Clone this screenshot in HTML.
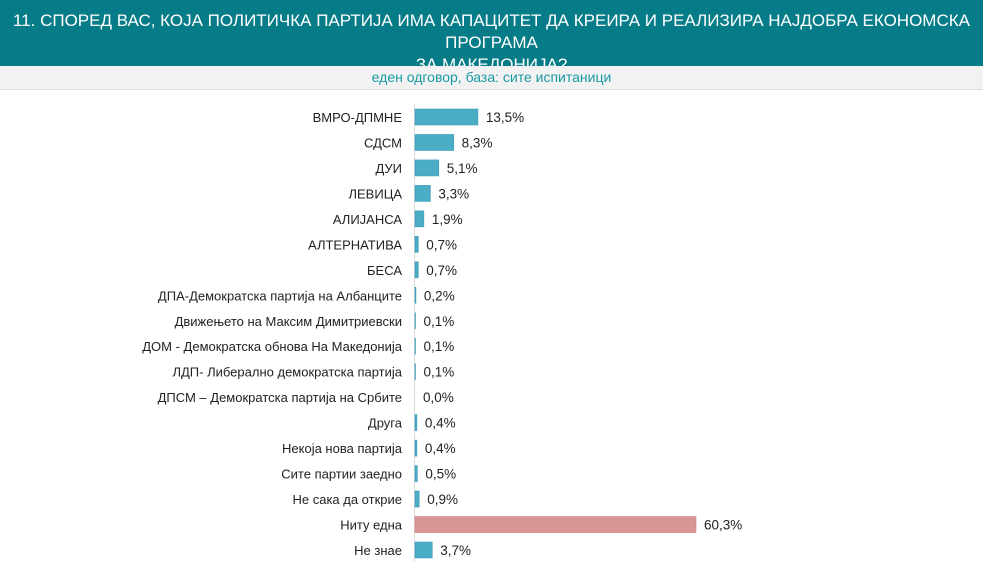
<!DOCTYPE html>
<html><head><meta charset="utf-8"><style>
body{margin:0;width:983px;height:570px;background:#fff;font-family:"Liberation Sans",sans-serif;overflow:hidden;position:relative}
#hdr{position:absolute;left:0;top:0;width:983px;height:66px;background:#067c89;color:#fff;font-size:17px;text-align:center;line-height:22px;padding-top:10px;box-sizing:border-box}
#sub{position:absolute;left:0;top:66px;width:983px;height:23px;background:#f2f2f2;border-bottom:1px solid #ddd;color:#1a9aa3;font-size:14px;text-align:center;line-height:23px}
</style></head><body>
<div id="hdr">11. СПОРЕД ВАС, КОЈА ПОЛИТИЧКА ПАРТИЈА ИМА КАПАЦИТЕТ ДА КРЕИРА И РЕАЛИЗИРА НАЈДОБРА ЕКОНОМСКА ПРОГРАМА<br>ЗА МАКЕДОНИЈА?</div>
<div id="sub">еден одговор, база: сите испитаници</div>
<svg id="chart" width="983" height="570" style="position:absolute;left:0;top:0"></svg>
<script>
const categories=["ВМРО-ДПМНЕ","СДСМ","ДУИ","ЛЕВИЦА","АЛИЈАНСА","АЛТЕРНАТИВА","БЕСА","ДПА-Демократска партија на Албанците","Движењето на Максим Димитриевски","ДОМ - Демократска обнова На Македонија","ЛДП- Либерално демократска партија","ДПСМ – Демократска партија на Србите","Друга","Некоја нова партија","Сите партии заедно","Не сака да открие","Ниту една","Не знае"];
const values=[13.5,8.3,5.1,3.3,1.9,0.7,0.7,0.2,0.1,0.1,0.1,0.0,0.4,0.4,0.5,0.9,60.3,3.7];
const highlight=["Ниту една"];
const svg=document.getElementById('chart');
const NS='http://www.w3.org/2000/svg';
const x0=415,pxPer=4.66,yTop=117,step=25.47,bh=16;
const xs=v=>x0+v*pxPer;
const ys=i=>yTop+i*step;
const ax=document.createElementNS(NS,'line');
ax.setAttribute('x1',414.5);ax.setAttribute('x2',414.5);ax.setAttribute('y1',104);ax.setAttribute('y2',562);
ax.setAttribute('stroke','#d9d9d9');


svg.appendChild(ax);
categories.forEach((c,i)=>{
  const y=ys(i),v=values[i];
  const hl=highlight.includes(c);
  const r=document.createElementNS(NS,'rect');
  r.setAttribute('x',x0);r.setAttribute('y',y-bh/2);
  r.setAttribute('width',Math.max(xs(v)-x0,0));r.setAttribute('height',bh);
  r.setAttribute('fill',hl?'#d99594':'#4bacc6');
  r.setAttribute('stroke',hl?'#d08080':'#3a9ab5');r.setAttribute('stroke-width',0.6);
  
  
  svg.appendChild(r);
  const t=document.createElementNS(NS,'text');
  t.setAttribute('x',402);t.setAttribute('y',y+5);t.setAttribute('text-anchor','end');
  t.setAttribute('font-size','13');t.setAttribute('fill','#222');
  t.textContent=c;
  
  
  svg.appendChild(t);
  const vl=document.createElementNS(NS,'text');
  vl.setAttribute('x',xs(v)+8);vl.setAttribute('y',y+5);
  vl.setAttribute('font-size','13.5');vl.setAttribute('fill','#222');
  vl.textContent=v.toFixed(1).replace('.',',')+'%';
  
  
  svg.appendChild(vl);
});
</script>
</body></html>
